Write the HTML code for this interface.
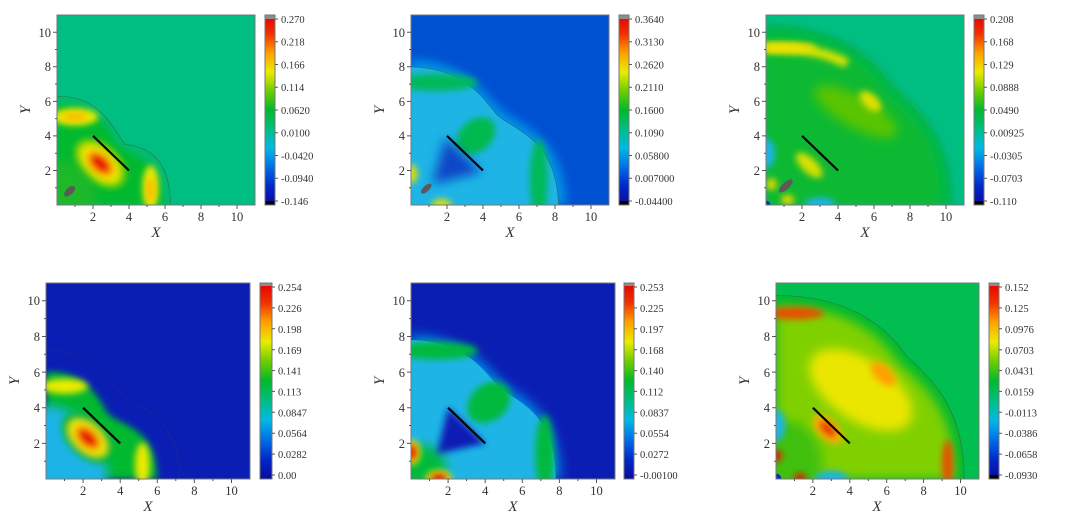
<!DOCTYPE html>
<html><head><meta charset="utf-8">
<style>
html,body{margin:0;padding:0;background:#fff;overflow:hidden;width:1080px;height:521px;}
svg{position:absolute;left:0;top:0;display:block;}
.tl{font-family:"Liberation Serif",serif;font-size:12.5px;fill:#333;}
.cl{font-family:"Liberation Serif",serif;font-size:10.5px;fill:#333;}
.ax{font-family:"Liberation Serif",serif;font-size:15px;font-style:italic;fill:#333;}
</style></head><body>
<svg width="1080" height="521" viewBox="0 0 1080 521" xmlns="http://www.w3.org/2000/svg">
<defs>
<filter id="b1" x="-50%" y="-50%" width="200%" height="200%"><feGaussianBlur stdDeviation="0.18"/></filter>
<filter id="b2" x="-50%" y="-50%" width="200%" height="200%"><feGaussianBlur stdDeviation="0.3"/></filter>
<linearGradient id="cg" x1="0" y1="0" x2="0" y2="1">
<stop offset="0" stop-color="#e60000"/><stop offset="0.1" stop-color="#f03200"/><stop offset="0.2" stop-color="#ffa000"/><stop offset="0.3" stop-color="#ebeb00"/><stop offset="0.4" stop-color="#6ecd00"/><stop offset="0.5" stop-color="#00b92d"/><stop offset="0.6" stop-color="#00be82"/><stop offset="0.7" stop-color="#00b9e6"/><stop offset="0.8" stop-color="#006ee6"/><stop offset="0.9" stop-color="#0028c8"/><stop offset="1" stop-color="#0a0aa0"/>
</linearGradient>
<clipPath id="c1"><rect x="0" y="0" width="11" height="11"/></clipPath>
</defs>

<!-- ============ PANEL 1 ============ -->
<g transform="translate(57,205) scale(18,-17.27)" clip-path="url(#c1)">
<rect x="0" y="0" width="11" height="11" fill="#00be82"/>
<path d="M0,0 L0,6.3 C2.5,6.3 3,4.5 3.8,3.5 C4.5,3.4 6.3,3.2 6.3,0 Z" fill="#00bb70" stroke="#2a7a50" stroke-width="0.04"/>
<path d="M0,0 L0,5.8 C2,5.9 2.8,4.6 3.2,3.6 C4,2.8 5.8,2.9 5.9,0 Z" fill="#00b92d" filter="url(#b1)"/>
<ellipse cx="1" cy="5.1" rx="1.3" ry="0.5" fill="#ebeb00" filter="url(#b1)"/>
<ellipse cx="1" cy="5.1" rx="0.7" ry="0.22" fill="#ffb400" filter="url(#b1)"/>
<ellipse cx="5.2" cy="1" rx="0.45" ry="1.3" fill="#ebeb00" filter="url(#b1)"/>
<ellipse cx="5.2" cy="0.9" rx="0.2" ry="0.7" fill="#ffb400" filter="url(#b1)"/>
<g transform="translate(2.4,2.4) rotate(-45)" filter="url(#b1)">
<ellipse rx="1.7" ry="1.05" fill="#8fd200"/><ellipse rx="1.3" ry="0.78" fill="#ebeb00"/><ellipse rx="0.95" ry="0.56" fill="#ffa000"/><ellipse rx="0.65" ry="0.38" fill="#e61400"/></g>
<ellipse cx="0" cy="0" rx="2.2" ry="2.6" fill="#30b828" filter="url(#b2)" opacity="0.6"/>
<ellipse transform="translate(0.7,0.8) rotate(45)" rx="0.38" ry="0.2" fill="#5a5a5a"/>
<line x1="2" y1="4" x2="4" y2="2" stroke="#000" stroke-width="0.12"/>
</g>
<!-- ============ PANEL 2 ============ -->
<g transform="translate(411,205) scale(18,-17.27)" clip-path="url(#c1)">
<rect x="0" y="0" width="11" height="11" fill="#0050d2"/>
<path d="M0,0 L0,8.4 C3,8.3 4,6.5 5,5.5 C6,4.6 8.5,4 8.6,0 Z" fill="#0096e6" filter="url(#b2)"/>
<path d="M0,0 L0,8 C3,7.9 4,6.2 4.8,5.2 C5.8,4.3 8.1,3.8 8.2,0 Z" fill="#1eb4e6" stroke="#2a6a80" stroke-width="0.04"/>
<ellipse cx="1.4" cy="7.1" rx="2.3" ry="0.5" fill="#00b95a" filter="url(#b1)"/>
<ellipse cx="7.1" cy="1.5" rx="0.5" ry="2.3" fill="#00b95a" filter="url(#b1)"/>
<ellipse transform="translate(3.6,4) rotate(45)" rx="1.25" ry="0.9" fill="#00b950" filter="url(#b1)"/>
<polygon points="1.9,3.9 3.9,1.9 1.2,1.2" fill="#0a46c8" filter="url(#b2)"/>
<ellipse cx="0.05" cy="1.8" rx="0.3" ry="0.55" fill="#e0e000" filter="url(#b1)"/>
<ellipse cx="1.7" cy="0.05" rx="0.55" ry="0.3" fill="#e0e000" filter="url(#b1)"/>
<ellipse transform="translate(0.85,0.95) rotate(45)" rx="0.38" ry="0.17" fill="#5a5a5a"/>
<line x1="2" y1="4" x2="4" y2="2" stroke="#000" stroke-width="0.12"/>
</g>
<!-- ============ PANEL 3 ============ -->
<g transform="translate(766,205) scale(18,-17.27)" clip-path="url(#c1)">
<rect x="0" y="0" width="11" height="11" fill="#00be82"/>
<path d="M0,0 L0,10.4 C4,10.4 6,8.5 7,7 C8.5,5.5 10.3,4 10.3,0 Z" fill="#00b94b" stroke="#2a7a50" stroke-width="0.04" filter="url(#b1)"/>
<path d="M0,0 L0,9.8 C4,9.8 5.7,8 6.6,6.6 C8,5.2 9.7,4 9.7,0 Z" fill="#10b932" filter="url(#b2)"/>
<path d="M0,9.1 C2.5,9.1 3.5,8.7 4.5,8.2" fill="none" stroke="#d8e400" stroke-width="0.55" filter="url(#b1)"/>
<path d="M9.1,0 L9.1,1.8" fill="none" stroke="#e8e800" stroke-width="0.6" filter="url(#b1)"/>
<ellipse cx="1" cy="9.1" rx="1.8" ry="0.3" fill="#f0e000" filter="url(#b1)"/>
<ellipse transform="translate(5,5.4) rotate(-30)" rx="2.6" ry="0.9" fill="#5ac400" filter="url(#b2)"/>
<ellipse transform="translate(5.8,6) rotate(-45)" rx="0.75" ry="0.4" fill="#e0e000" filter="url(#b1)"/>
<ellipse transform="translate(2.4,2.3) rotate(-45)" rx="0.95" ry="0.42" fill="#d8e000" filter="url(#b1)"/>
<ellipse cx="0" cy="3" rx="0.5" ry="0.85" fill="#1eb4e6" filter="url(#b1)"/>
<ellipse cx="3" cy="0" rx="0.85" ry="0.45" fill="#1eb4e6" filter="url(#b1)"/>
<ellipse cx="0.3" cy="1.2" rx="0.3" ry="0.35" fill="#e8d800" filter="url(#b1)"/>
<ellipse cx="1.2" cy="0.3" rx="0.35" ry="0.3" fill="#e8d800" filter="url(#b1)"/>
<ellipse transform="translate(1.1,1.1) rotate(45)" rx="0.5" ry="0.2" fill="#5a5a5a"/>
<circle cx="0" cy="0" r="0.25" fill="#0030c0"/>
<line x1="2" y1="4" x2="4" y2="2" stroke="#000" stroke-width="0.12"/>
</g>
<!-- ============ PANEL 4 ============ -->
<g transform="translate(46,479) scale(18.55,-17.82)" clip-path="url(#c1)">
<rect x="0" y="0" width="11" height="11" fill="#0a1eb4"/>
<path d="M0,0 L0,7.2 C3,7.2 3.5,5.2 4.5,4.3 C5.5,4 7.2,3 7.2,0 Z" fill="none" stroke="#1a2a90" stroke-width="0.04"/>
<path d="M0,0 L0,6 C2,6.1 2.8,4.7 3.3,3.7 C4.1,2.9 5.9,3 6,0 Z" fill="#00b92d" filter="url(#b1)"/>
<ellipse cx="0" cy="0" rx="3.3" ry="4.1" fill="#1eb4e6" filter="url(#b2)"/>
<ellipse cx="1" cy="5.2" rx="1.25" ry="0.42" fill="#ebeb00" filter="url(#b1)"/>
<ellipse cx="5.2" cy="0.8" rx="0.4" ry="1.25" fill="#ebeb00" filter="url(#b1)"/>
<g transform="translate(2.25,2.3) rotate(-45)" filter="url(#b1)">
<ellipse rx="1.7" ry="1.05" fill="#00b92d"/><ellipse rx="1.25" ry="0.72" fill="#ebeb00"/><ellipse rx="0.9" ry="0.52" fill="#ffa000"/><ellipse rx="0.62" ry="0.36" fill="#e61400"/></g>
<line x1="2" y1="4" x2="4" y2="2" stroke="#000" stroke-width="0.12"/>
</g>
<!-- ============ PANEL 5 ============ -->
<g transform="translate(411,479) scale(18.55,-17.82)" clip-path="url(#c1)">
<rect x="0" y="0" width="11" height="11" fill="#0a1eb4"/>
<path d="M0,0 L0,8.1 C3,8 4,6.4 5,5.4 C6,4.5 8,3.9 8.1,0 Z" fill="#0080e0" filter="url(#b2)"/>
<path d="M0,0 L0,7.8 C3,7.7 3.9,6.1 4.8,5.1 C5.8,4.3 7.8,3.7 7.8,0 Z" fill="#1eb4e6"/>
<ellipse cx="1.4" cy="7.2" rx="2.2" ry="0.5" fill="#00b93c" filter="url(#b1)"/>
<ellipse cx="7.2" cy="1.4" rx="0.5" ry="2.2" fill="#00b93c" filter="url(#b1)"/>
<ellipse transform="translate(4.2,4.3) rotate(45)" rx="1.3" ry="1" fill="#00b93c" filter="url(#b1)"/>
<ellipse cx="0.6" cy="0.6" rx="1.3" ry="1.3" fill="#00b93c" filter="url(#b2)"/>
<polygon points="2,4 4,2 1.4,1.4" fill="#0a1eb4" filter="url(#b1)"/>
<ellipse cx="0.05" cy="1.5" rx="0.45" ry="0.7" fill="#ebeb00" filter="url(#b1)"/>
<ellipse cx="0.05" cy="1.5" rx="0.25" ry="0.45" fill="#e61400" filter="url(#b1)"/>
<ellipse cx="1.5" cy="0.05" rx="0.7" ry="0.45" fill="#ebeb00" filter="url(#b1)"/>
<ellipse cx="1.5" cy="0.05" rx="0.45" ry="0.25" fill="#e61400" filter="url(#b1)"/>
<line x1="2" y1="4" x2="4" y2="2" stroke="#000" stroke-width="0.12"/>
</g>
<!-- ============ PANEL 6 ============ -->
<g transform="translate(776,479) scale(18.45,-17.82)" clip-path="url(#c1)">
<rect x="0" y="0" width="11" height="11" fill="#00be50"/>
<path d="M0,0 L0,10.3 C4,10.3 6,8.5 7,7 C8.5,5.5 10.2,4 10.2,0 Z" fill="#00b932" stroke="#2a7a40" stroke-width="0.04"/>
<path d="M0,0 L0,9.7 C4,9.7 5.7,8 6.6,6.6 C8,5.2 9.7,4 9.7,0 Z" fill="#80d000" filter="url(#b2)"/>
<ellipse transform="translate(4.6,5) rotate(-35)" rx="3.2" ry="1.7" fill="#ebe600" filter="url(#b2)"/>
<ellipse transform="translate(5.8,5.9) rotate(-45)" rx="0.85" ry="0.45" fill="#ffa000" filter="url(#b1)"/>
<ellipse cx="1" cy="9.3" rx="1.6" ry="0.35" fill="#e85000" filter="url(#b1)"/>
<ellipse cx="9.3" cy="0.9" rx="0.3" ry="1.3" fill="#e85000" filter="url(#b1)"/>
<ellipse cx="0.5" cy="0.8" rx="2" ry="2.5" fill="#40c010" filter="url(#b2)"/>
<g transform="translate(2.8,2.8) rotate(-45)" filter="url(#b1)"><ellipse rx="1" ry="0.55" fill="#ffb000"/><ellipse rx="0.6" ry="0.3" fill="#e63000"/></g>
<ellipse cx="0" cy="3" rx="0.5" ry="0.9" fill="#1eb4e6" filter="url(#b1)"/>
<ellipse cx="3" cy="0" rx="0.9" ry="0.45" fill="#1eb4e6" filter="url(#b1)"/>
<circle cx="0" cy="1.3" r="0.32" fill="#e61400" filter="url(#b1)"/>
<circle cx="1.3" cy="0" r="0.32" fill="#e61400" filter="url(#b1)"/>
<circle cx="0" cy="0" r="0.3" fill="#0030c0"/>
<line x1="2" y1="4" x2="4" y2="2" stroke="#000" stroke-width="0.12"/>
</g>

<!-- ============ AXES ROW 1 ============ -->
<g transform="translate(57,15)">
<rect x="0" y="0" width="198" height="190" fill="none" stroke="#777" stroke-width="1"/>
<path d="M36,190v4M72,190v4M108,190v4M144,190v4M180,190v4M18,190v2M54,190v2M90,190v2M126,190v2M162,190v2M0,155.5h-4M0,120.9h-4M0,86.4h-4M0,51.8h-4M0,17.3h-4M0,172.7h-2M0,138.2h-2M0,103.6h-2M0,69.1h-2M0,34.5h-2" stroke="#555" stroke-width="1"/>
<g class="tl" text-anchor="middle"><text x="36" y="206">2</text><text x="72" y="206">4</text><text x="108" y="206">6</text><text x="144" y="206">8</text><text x="180" y="206">10</text></g>
<g class="tl" text-anchor="end"><text x="-6" y="160">2</text><text x="-6" y="125">4</text><text x="-6" y="91">6</text><text x="-6" y="56">8</text><text x="-6" y="22">10</text></g>
<text class="ax" x="99" y="222" text-anchor="middle">X</text>
<text class="ax" transform="translate(-27,95) rotate(-90)" text-anchor="middle">Y</text>
</g>
<g transform="translate(411,15)">
<rect x="0" y="0" width="198" height="190" fill="none" stroke="#777" stroke-width="1"/>
<path d="M36,190v4M72,190v4M108,190v4M144,190v4M180,190v4M18,190v2M54,190v2M90,190v2M126,190v2M162,190v2M0,155.5h-4M0,120.9h-4M0,86.4h-4M0,51.8h-4M0,17.3h-4M0,172.7h-2M0,138.2h-2M0,103.6h-2M0,69.1h-2M0,34.5h-2" stroke="#555" stroke-width="1"/>
<g class="tl" text-anchor="middle"><text x="36" y="206">2</text><text x="72" y="206">4</text><text x="108" y="206">6</text><text x="144" y="206">8</text><text x="180" y="206">10</text></g>
<g class="tl" text-anchor="end"><text x="-6" y="160">2</text><text x="-6" y="125">4</text><text x="-6" y="91">6</text><text x="-6" y="56">8</text><text x="-6" y="22">10</text></g>
<text class="ax" x="99" y="222" text-anchor="middle">X</text>
<text class="ax" transform="translate(-27,95) rotate(-90)" text-anchor="middle">Y</text>
</g>
<g transform="translate(766,15)">
<rect x="0" y="0" width="198" height="190" fill="none" stroke="#777" stroke-width="1"/>
<path d="M36,190v4M72,190v4M108,190v4M144,190v4M180,190v4M18,190v2M54,190v2M90,190v2M126,190v2M162,190v2M0,155.5h-4M0,120.9h-4M0,86.4h-4M0,51.8h-4M0,17.3h-4M0,172.7h-2M0,138.2h-2M0,103.6h-2M0,69.1h-2M0,34.5h-2" stroke="#555" stroke-width="1"/>
<g class="tl" text-anchor="middle"><text x="36" y="206">2</text><text x="72" y="206">4</text><text x="108" y="206">6</text><text x="144" y="206">8</text><text x="180" y="206">10</text></g>
<g class="tl" text-anchor="end"><text x="-6" y="160">2</text><text x="-6" y="125">4</text><text x="-6" y="91">6</text><text x="-6" y="56">8</text><text x="-6" y="22">10</text></g>
<text class="ax" x="99" y="222" text-anchor="middle">X</text>
<text class="ax" transform="translate(-27,95) rotate(-90)" text-anchor="middle">Y</text>
</g>

<!-- ============ AXES ROW 2 ============ -->
<g transform="translate(46,283)">
<rect x="0" y="0" width="204" height="196" fill="none" stroke="#777" stroke-width="1"/>
<path d="M37.1,196v4M74.2,196v4M111.3,196v4M148.4,196v4M185.5,196v4M18.5,196v2M55.6,196v2M92.7,196v2M129.8,196v2M166.9,196v2M0,160.4h-4M0,124.7h-4M0,89.1h-4M0,53.5h-4M0,17.8h-4M0,178.2h-2M0,142.5h-2M0,106.9h-2M0,71.3h-2M0,35.6h-2" stroke="#555" stroke-width="1"/>
<g class="tl" text-anchor="middle"><text x="37.1" y="212">2</text><text x="74.2" y="212">4</text><text x="111.3" y="212">6</text><text x="148.4" y="212">8</text><text x="185.5" y="212">10</text></g>
<g class="tl" text-anchor="end"><text x="-6" y="165">2</text><text x="-6" y="129">4</text><text x="-6" y="94">6</text><text x="-6" y="58">8</text><text x="-6" y="22">10</text></g>
<text class="ax" x="102" y="228" text-anchor="middle">X</text>
<text class="ax" transform="translate(-27,98) rotate(-90)" text-anchor="middle">Y</text>
</g>
<g transform="translate(411,283)">
<rect x="0" y="0" width="204" height="196" fill="none" stroke="#777" stroke-width="1"/>
<path d="M37.1,196v4M74.2,196v4M111.3,196v4M148.4,196v4M185.5,196v4M18.5,196v2M55.6,196v2M92.7,196v2M129.8,196v2M166.9,196v2M0,160.4h-4M0,124.7h-4M0,89.1h-4M0,53.5h-4M0,17.8h-4M0,178.2h-2M0,142.5h-2M0,106.9h-2M0,71.3h-2M0,35.6h-2" stroke="#555" stroke-width="1"/>
<g class="tl" text-anchor="middle"><text x="37.1" y="212">2</text><text x="74.2" y="212">4</text><text x="111.3" y="212">6</text><text x="148.4" y="212">8</text><text x="185.5" y="212">10</text></g>
<g class="tl" text-anchor="end"><text x="-6" y="165">2</text><text x="-6" y="129">4</text><text x="-6" y="94">6</text><text x="-6" y="58">8</text><text x="-6" y="22">10</text></g>
<text class="ax" x="102" y="228" text-anchor="middle">X</text>
<text class="ax" transform="translate(-27,98) rotate(-90)" text-anchor="middle">Y</text>
</g>
<g transform="translate(776,283)">
<rect x="0" y="0" width="203" height="196" fill="none" stroke="#777" stroke-width="1"/>
<path d="M36.9,196v4M73.8,196v4M110.7,196v4M147.6,196v4M184.5,196v4M18.5,196v2M55.4,196v2M92.3,196v2M129.2,196v2M166.1,196v2M0,160.4h-4M0,124.7h-4M0,89.1h-4M0,53.5h-4M0,17.8h-4M0,178.2h-2M0,142.5h-2M0,106.9h-2M0,71.3h-2M0,35.6h-2" stroke="#555" stroke-width="1"/>
<g class="tl" text-anchor="middle"><text x="36.9" y="212">2</text><text x="73.8" y="212">4</text><text x="110.7" y="212">6</text><text x="147.6" y="212">8</text><text x="184.5" y="212">10</text></g>
<g class="tl" text-anchor="end"><text x="-6" y="165">2</text><text x="-6" y="129">4</text><text x="-6" y="94">6</text><text x="-6" y="58">8</text><text x="-6" y="22">10</text></g>
<text class="ax" x="101" y="228" text-anchor="middle">X</text>
<text class="ax" transform="translate(-27,98) rotate(-90)" text-anchor="middle">Y</text>
</g>

<!-- ============ COLORBARS ROW 1 ============ -->
<g transform="translate(265,15)">
<rect x="0" y="0" width="10" height="190" fill="url(#cg)"/><rect x="0" y="0" width="10" height="4" fill="#8c8c8c"/><rect x="0" y="186" width="10" height="4" fill="#000"/>
<rect x="0" y="0" width="10" height="190" fill="none" stroke="#777"/>
<path d="M10,4h3M10,26.75h3M10,49.5h3M10,72.25h3M10,95h3M10,117.75h3M10,140.5h3M10,163.25h3M10,186h3" stroke="#555"/>
<g class="cl"><text x="16" y="8">0.270</text><text x="16" y="30.5">0.218</text><text x="16" y="53.5">0.166</text><text x="16" y="76">0.114</text><text x="16" y="99">0.0620</text><text x="16" y="121.5">0.0100</text><text x="16" y="144.5">-0.0420</text><text x="16" y="167">-0.0940</text><text x="16" y="190">-0.146</text></g>
</g>
<g transform="translate(619,15)">
<rect x="0" y="0" width="10" height="190" fill="url(#cg)"/><rect x="0" y="0" width="10" height="4" fill="#8c8c8c"/><rect x="0" y="186" width="10" height="4" fill="#000"/>
<rect x="0" y="0" width="10" height="190" fill="none" stroke="#777"/>
<path d="M10,4h3M10,26.75h3M10,49.5h3M10,72.25h3M10,95h3M10,117.75h3M10,140.5h3M10,163.25h3M10,186h3" stroke="#555"/>
<g class="cl"><text x="16" y="8">0.3640</text><text x="16" y="30.5">0.3130</text><text x="16" y="53.5">0.2620</text><text x="16" y="76">0.2110</text><text x="16" y="99">0.1600</text><text x="16" y="121.5">0.1090</text><text x="16" y="144.5">0.05800</text><text x="16" y="167">0.007000</text><text x="16" y="190">-0.04400</text></g>
</g>
<g transform="translate(974,15)">
<rect x="0" y="0" width="10" height="190" fill="url(#cg)"/><rect x="0" y="0" width="10" height="4" fill="#8c8c8c"/><rect x="0" y="186" width="10" height="4" fill="#000"/>
<rect x="0" y="0" width="10" height="190" fill="none" stroke="#777"/>
<path d="M10,4h3M10,26.75h3M10,49.5h3M10,72.25h3M10,95h3M10,117.75h3M10,140.5h3M10,163.25h3M10,186h3" stroke="#555"/>
<g class="cl"><text x="16" y="8">0.208</text><text x="16" y="30.5">0.168</text><text x="16" y="53.5">0.129</text><text x="16" y="76">0.0888</text><text x="16" y="99">0.0490</text><text x="16" y="121.5">0.00925</text><text x="16" y="144.5">-0.0305</text><text x="16" y="167">-0.0703</text><text x="16" y="190">-0.110</text></g>
</g>

<!-- ============ COLORBARS ROW 2 ============ -->
<g transform="translate(260,283)">
<rect x="0" y="0" width="12" height="196" fill="url(#cg)"/><rect x="0" y="0" width="12" height="3" fill="#8c8c8c"/>
<rect x="0" y="0" width="12" height="196" fill="none" stroke="#777"/>
<path d="M12,4h3M12,24.9h3M12,45.8h3M12,66.7h3M12,87.6h3M12,108.4h3M12,129.3h3M12,150.2h3M12,171.1h3M12,192h3" stroke="#555"/>
<g class="cl"><text x="18" y="8">0.254</text><text x="18" y="29">0.226</text><text x="18" y="50">0.198</text><text x="18" y="71">0.169</text><text x="18" y="91.5">0.141</text><text x="18" y="112.5">0.113</text><text x="18" y="133.5">0.0847</text><text x="18" y="154">0.0564</text><text x="18" y="175">0.0282</text><text x="18" y="196">0.00</text></g>
</g>
<g transform="translate(624,283)">
<rect x="0" y="0" width="10" height="196" fill="url(#cg)"/><rect x="0" y="0" width="10" height="3" fill="#8c8c8c"/>
<rect x="0" y="0" width="10" height="196" fill="none" stroke="#777"/>
<path d="M10,4h3M10,24.9h3M10,45.8h3M10,66.7h3M10,87.6h3M10,108.4h3M10,129.3h3M10,150.2h3M10,171.1h3M10,192h3" stroke="#555"/>
<g class="cl"><text x="16" y="8">0.253</text><text x="16" y="29">0.225</text><text x="16" y="50">0.197</text><text x="16" y="71">0.168</text><text x="16" y="91.5">0.140</text><text x="16" y="112.5">0.112</text><text x="16" y="133.5">0.0837</text><text x="16" y="154">0.0554</text><text x="16" y="175">0.0272</text><text x="16" y="196">-0.00100</text></g>
</g>
<g transform="translate(989,283)">
<rect x="0" y="0" width="10" height="196" fill="url(#cg)"/><rect x="0" y="0" width="10" height="3" fill="#8c8c8c"/><rect x="0" y="192" width="10" height="4" fill="#000"/>
<rect x="0" y="0" width="10" height="196" fill="none" stroke="#777"/>
<path d="M10,4h3M10,24.9h3M10,45.8h3M10,66.7h3M10,87.6h3M10,108.4h3M10,129.3h3M10,150.2h3M10,171.1h3M10,192h3" stroke="#555"/>
<g class="cl"><text x="16" y="8">0.152</text><text x="16" y="29">0.125</text><text x="16" y="50">0.0976</text><text x="16" y="71">0.0703</text><text x="16" y="91.5">0.0431</text><text x="16" y="112.5">0.0159</text><text x="16" y="133.5">-0.0113</text><text x="16" y="154">-0.0386</text><text x="16" y="175">-0.0658</text><text x="16" y="196">-0.0930</text></g>
</g>
</svg>
</body></html>
